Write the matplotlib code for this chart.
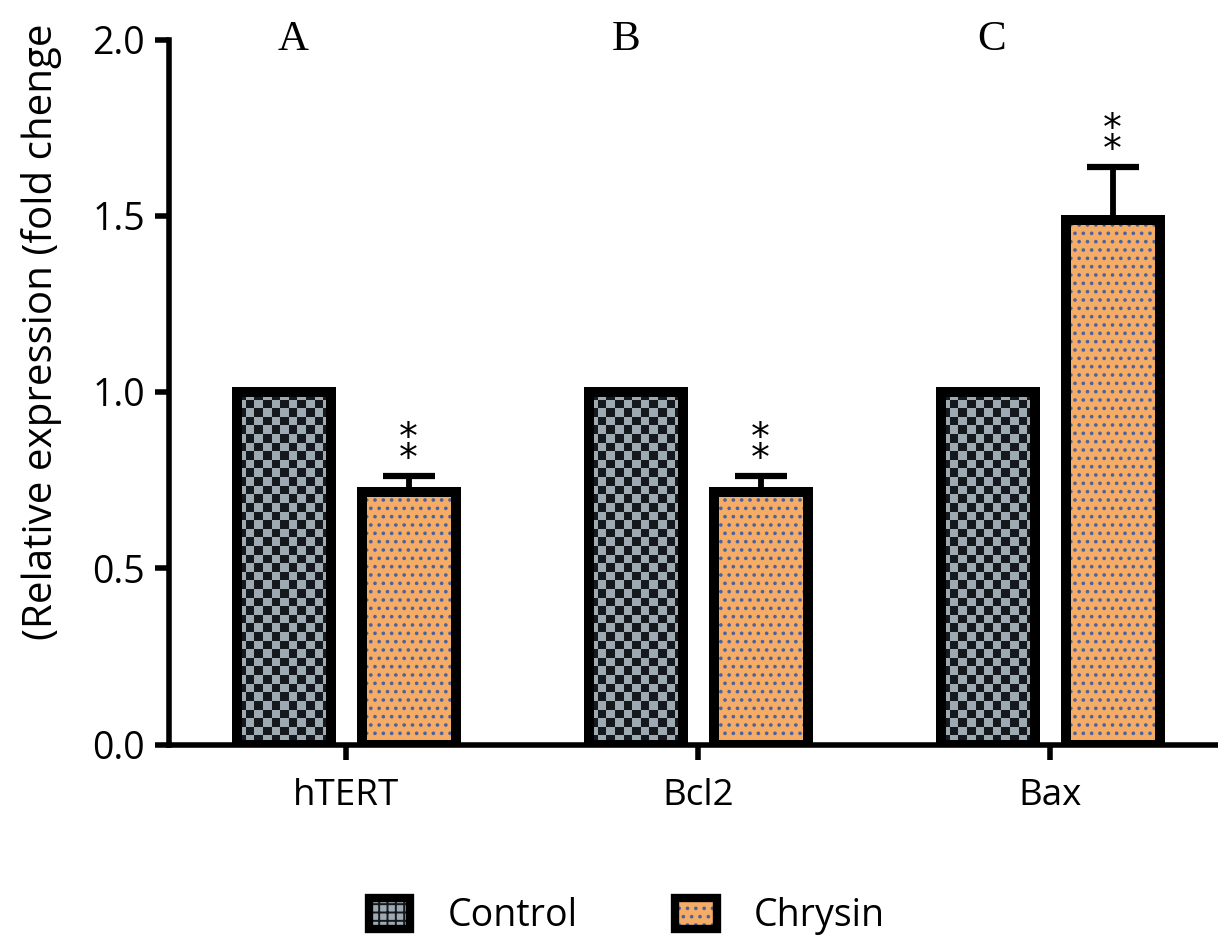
import matplotlib
matplotlib.use("Agg")
import matplotlib.pyplot as plt
import numpy as np
from matplotlib.colors import ListedColormap
from matplotlib.patches import Patch
from matplotlib.legend_handler import HandlerTuple

plt.rcParams['font.family'] = ['Open Sans', 'DejaVu Sans']
plt.rcParams['hatch.linewidth'] = 1.4

genes = ["hTERT", "Bcl2", "Bax"]
control = [1.0, 1.0, 1.0]
chrysin = [0.715, 0.715, 1.488]
chrysin_err = [0.047, 0.047, 0.151]
panel_letters = ["A", "B", "C"]
signif = ["**", "**", "**"]

dark = '#15181d'
grey = '#9eaab2'
orange = '#f4ac66'
dotblue = '#4a62a0'

x = np.arange(len(genes))
w = 0.267
off = 0.177

fig = plt.figure(figsize=(12.18, 9.39), dpi=100)
ax = fig.add_axes([168.5/1218, 1 - 744.5/939, 1 - 168.5/1218, 705/939])

# control bars: checkerboard fill
cmap = ListedColormap([dark, grey])
cell = 8.5 / 352.0
for xi, v in zip(x - off, control):
    nx = int(round(w / cell))
    ny = int(round(v / cell))
    board = np.indices((ny, nx)).sum(axis=0) % 2
    ax.imshow(board, cmap=cmap, interpolation='nearest', aspect='auto',
              extent=(xi - w/2, xi + w/2, 0, v), zorder=1)
ax.bar(x - off, control, w, fill=False, edgecolor='black', linewidth=7.2, zorder=3)

# chrysin bars: orange with blue dots
ax.bar(x + off, chrysin, w, color=orange, edgecolor=dotblue, hatch='..', linewidth=0, zorder=1)
ax.errorbar(x + off, chrysin, yerr=[np.zeros(3), chrysin_err], fmt='none', ecolor='black',
            elinewidth=4.2, capsize=18.5, capthick=4.5, zorder=2)
ax.bar(x + off, chrysin, w, fill=False, edgecolor='black', linewidth=7.2, zorder=3)

for xi, v, e, s in zip(x + off, chrysin, chrysin_err, signif):
    ax.text(xi, v + e + 0.075, "*\n*", ha='center', va='center', fontsize=27,
            linespacing=0.45, family='DejaVu Sans')

for xi, letter, dx in zip(x, panel_letters, [-0.152, -0.206, -0.166]):
    ax.text(xi + dx, 2.0, letter, ha='center', va='center', fontsize=31,
            family='Liberation Serif', clip_on=False)

ax.set_xlim(-0.505, 2.476)
ax.set_ylim(0, 2.0)
ax.set_yticks([0, 0.5, 1.0, 1.5, 2.0])
ax.set_yticklabels(["0.0", "0.5", "1.0", "1.5", "2.0"])
ax.set_xticks(x)
ax.set_xticklabels(genes)

for side in ['top', 'right']:
    ax.spines[side].set_visible(False)
for side in ['left', 'bottom']:
    ax.spines[side].set_linewidth(4.0)
ax.tick_params(axis='y', length=10, width=4.0, labelsize=27, pad=7)
ax.tick_params(axis='x', length=11, width=4.0, labelsize=26.5, pad=13)

fig.text(42/1218, 1 - 640/939, "(Relative expression (fold chenge", rotation=90,
         ha='center', va='bottom', fontsize=29)

h_control = (Patch(facecolor=grey, edgecolor=dark, hatch='++', linewidth=0),
             Patch(fill=False, edgecolor='black', linewidth=6))
h_chrysin = (Patch(facecolor=orange, edgecolor=dotblue, hatch='..', linewidth=0),
             Patch(fill=False, edgecolor='black', linewidth=6))
fig.legend([h_control, h_chrysin], ["Control", "Chrysin"], loc='center',
           bbox_to_anchor=(627/1218, 1 - 916/939), ncol=2, frameon=False, fontsize=27,
           handlelength=1.1, handleheight=0.9, handletextpad=1.0, columnspacing=2.6,
           handler_map={tuple: HandlerTuple(ndivide=1)})

fig.savefig("out.png", dpi=100)
